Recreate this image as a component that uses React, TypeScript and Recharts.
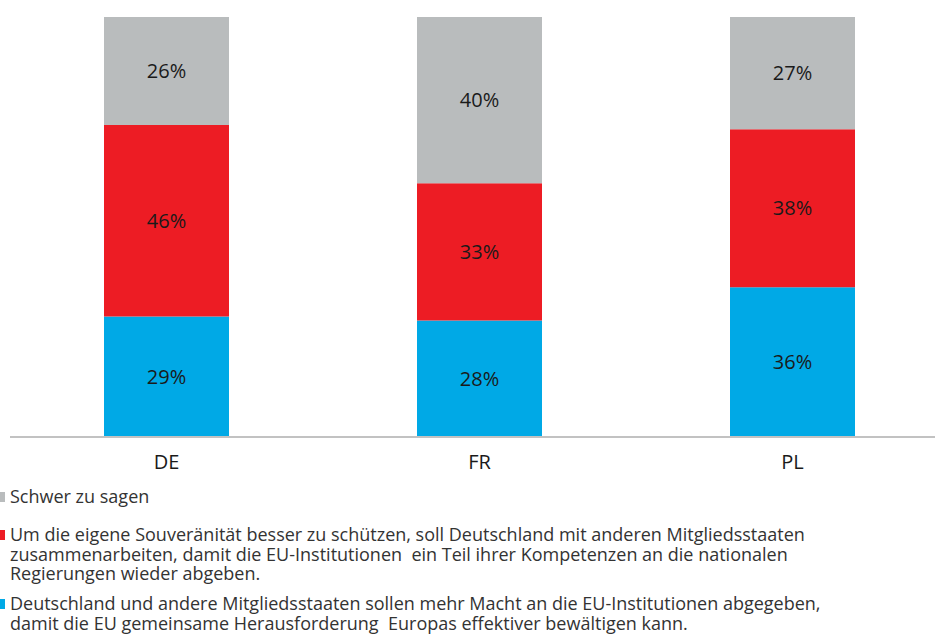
import React from "react";
import { BarChart, Bar, XAxis, YAxis, LabelList } from "recharts";

// Länder (Kategorien)
const COUNTRIES = ["DE", "FR", "PL"];

// Werte je Antwort in Prozent
const EU_MORE_POWER = [29, 28, 36];
const NATIONAL_SOVEREIGNTY = [46, 33, 38];
const HARD_TO_SAY = [26, 40, 27];

const COLORS = {
  eu: "#00a9e6",
  national: "#ed1c24",
  unsure: "#b9bcbd",
};

const LEGEND_ITEMS = [
  {
    key: "unsure",
    color: COLORS.unsure,
    top: 487,
    lines: ["Schwer zu sagen"],
  },
  {
    key: "national",
    color: COLORS.national,
    top: 525,
    lines: [
      "Um die eigene Souveränität besser zu schützen, soll Deutschland mit anderen Mitgliedsstaaten",
      "zusammenarbeiten, damit die EU-Institutionen  ein Teil ihrer Kompetenzen an die nationalen",
      "Regierungen wieder abgeben.",
    ],
  },
  {
    key: "eu",
    color: COLORS.eu,
    top: 594,
    lines: [
      "Deutschland und andere Mitgliedsstaaten sollen mehr Macht an die EU-Institutionen abgegeben,",
      "damit die EU gemeinsame Herausforderung  Europas effektiver bewältigen kann.",
    ],
  },
];

const FONT = "'Open Sans', 'Noto Sans', sans-serif";

const chartData = COUNTRIES.map((country, i) => ({
  country,
  eu: EU_MORE_POWER[i],
  national: NATIONAL_SOVEREIGNTY[i],
  unsure: HARD_TO_SAY[i],
}));

const pct = (v: any) => `${v}%`;

export default function App() {
  return (
    <div
      style={{
        position: "absolute",
        left: 0,
        top: 0,
        width: 935,
        height: 634,
        overflow: "hidden",
        background: "#ffffff",
        fontFamily: FONT,
      }}
    >
      <BarChart
        width={949}
        height={480}
        data={chartData}
        margin={{ top: 17, right: 0, left: 10, bottom: 3 }}
        barSize={125}
      >
        <XAxis
          dataKey="country"
          axisLine={{ stroke: "#c2c2c2", strokeWidth: 2 }}
          tickLine={false}
          tickSize={0}
          tickMargin={18}
          height={40}
          tick={{ fill: "#1a1a1a", fontSize: 20, fontFamily: FONT }}
        />
        <YAxis hide domain={[0, 101]} />
        <Bar dataKey="eu" stackId="a" fill={COLORS.eu} isAnimationActive={false}>
          <LabelList
            dataKey="eu"
            position="center"
            formatter={pct}
            fill="#1a1a1a"
            fontSize={20}
            fontFamily={FONT}
          />
        </Bar>
        <Bar dataKey="national" stackId="a" fill={COLORS.national} isAnimationActive={false}>
          <LabelList
            dataKey="national"
            position="center"
            formatter={pct}
            fill="#1a1a1a"
            fontSize={20}
            fontFamily={FONT}
          />
        </Bar>
        <Bar dataKey="unsure" stackId="a" fill={COLORS.unsure} isAnimationActive={false}>
          <LabelList
            dataKey="unsure"
            position="center"
            formatter={pct}
            fill="#1a1a1a"
            fontSize={20}
            fontFamily={FONT}
          />
        </Bar>
      </BarChart>

      {/* Legende */}
      {LEGEND_ITEMS.map((item) => (
        <div
          key={item.key}
          style={{
            position: "absolute",
            left: 0,
            top: item.top,
            width: 935,
          }}
        >
          <div
            style={{
              position: "absolute",
              left: 0,
              top: 5,
              width: 5,
              height: 10,
              background: item.color,
            }}
          />
          <div
            style={{
              marginLeft: 10,
              fontSize: 18,
              lineHeight: "19.5px",
              color: "#333333",
              whiteSpace: "pre",
            }}
          >
            {item.lines.join("\n")}
          </div>
        </div>
      ))}
    </div>
  );
}
